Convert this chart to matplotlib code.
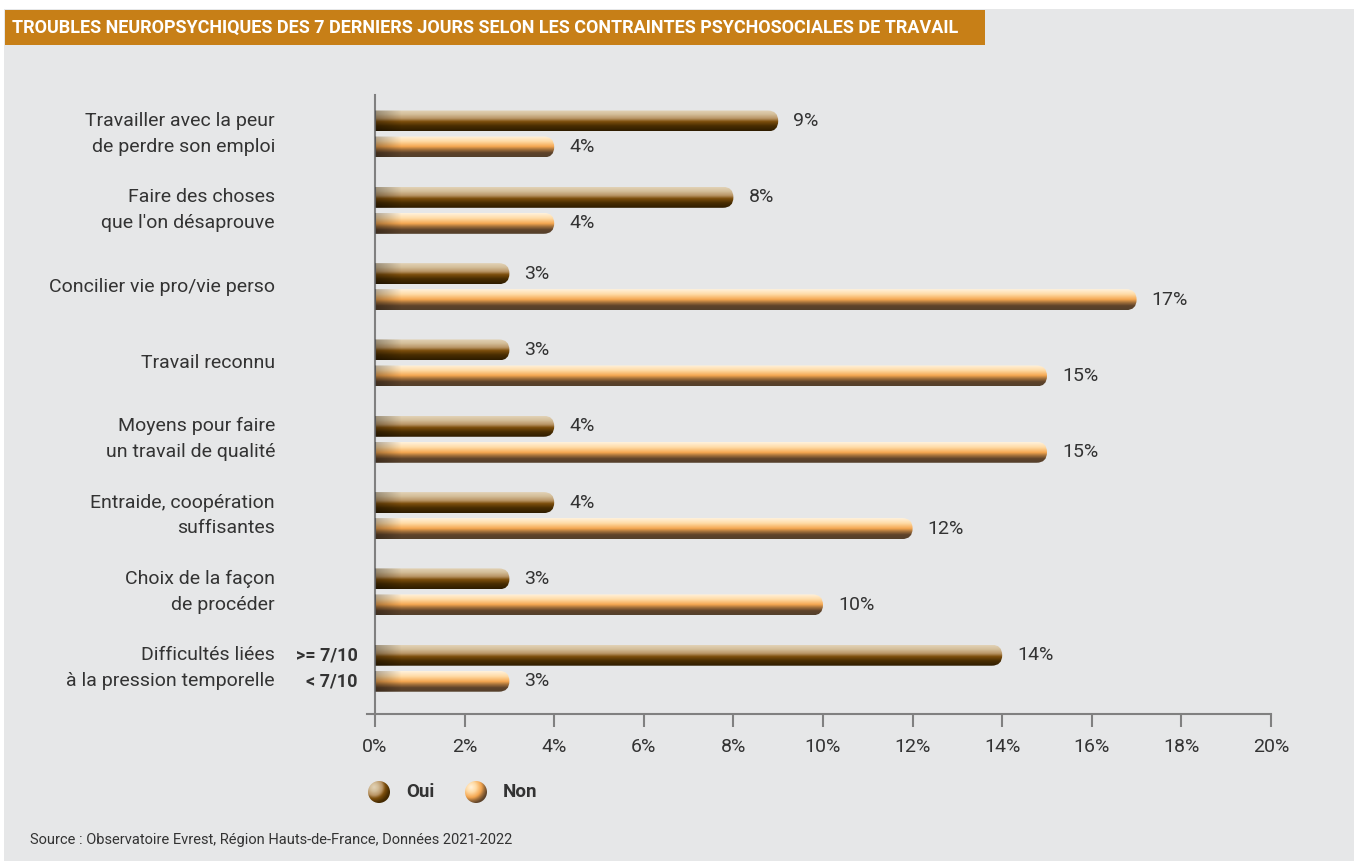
import numpy as np
import matplotlib.pyplot as plt
from matplotlib.patches import FancyBboxPatch, Rectangle, Circle
from matplotlib.colors import LinearSegmentedColormap

categories = [
    "Travailler avec la peur\nde perdre son emploi",
    "Faire des choses\nque l'on désaprouve",
    "Concilier vie pro/vie perso",
    "Travail reconnu",
    "Moyens pour faire\nun travail de qualité",
    "Entraide, coopération\nsuffisantes",
    "Choix de la façon\nde procéder",
    "Difficultés liées\nà la pression temporelle",
]
oui = [9, 8, 3, 3, 4, 4, 3, 14]
non = [4, 4, 17, 15, 15, 12, 10, 3]
xticks = [0, 2, 4, 6, 8, 10, 12, 14, 16, 18, 20]

title = "TROUBLES NEUROPSYCHIQUES DES 7 DERNIERS JOURS SELON LES CONTRAINTES PSYCHOSOCIALES DE TRAVAIL"
source = "Source : Observatoire Evrest, Région Hauts-de-France, Données 2021-2022"

plt.rcParams['font.family'] = ['Roboto', 'DejaVu Sans']
W, H = 1354, 861
bg = '#e6e7e8'
txt = '#333333'
fs = 14

fig = plt.figure(figsize=(W / 100, H / 100), dpi=100, facecolor='white')
fig.patches.append(Rectangle((4 / W, 0), 1, 1 - 9 / H, transform=fig.transFigure,
                             facecolor=bg, edgecolor='none', zorder=-10))
fig.patches.append(Rectangle((5 / W, 1 - 45 / H), 980 / W, 35 / H, transform=fig.transFigure,
                             facecolor='#c77f17', edgecolor='none', zorder=-5))
ttl = fig.text(12 / W, 1 - 28 / H, title, color='white', fontsize=13, fontweight='bold',
               va='center', ha='left')
# shrink title to fit the banner
rend = fig.canvas.get_renderer()
w = ttl.get_window_extent(rend).width
if w > 966:
    ttl.set_fontsize(13 * 966 / w)

ax = fig.add_axes([375 / W, 1 - 714 / H, 896 / W, 619 / H])
ax.patch.set_alpha(0)
ax.set_xlim(0, 20)
ax.set_ylim(7.6, -0.511)

cm_oui = LinearSegmentedColormap.from_list(
    'oui', [(0, '#e2d2b6'), (0.2, '#d3bd98'), (0.4, '#b99566'), (0.55, '#7c4e0c'),
            (0.75, '#4a2e02'), (1, '#2e1c00')])
cm_non = LinearSegmentedColormap.from_list(
    'non', [(0, '#fff2dc'), (0.25, '#ffdaa4'), (0.5, '#f4a650'), (0.65, '#9f6e3a'),
            (0.8, '#5e432a'), (1, '#54402c')])

xpp = 20 / 896
ypp = 8.111 / 619
asp = ypp / xpp
bh = 21 * ypp
off = 13 * ypp
grad = np.linspace(0, 1, 64).reshape(-1, 1)

def draw_bar(y, v, cmap):
    r = bh / 2 / asp
    patch = FancyBboxPatch((-1, y - bh / 2), v + 1, bh,
                           boxstyle=f"round,pad=0,rounding_size={r}",
                           mutation_aspect=asp, facecolor='none', edgecolor='none')
    ax.add_patch(patch)
    im = ax.imshow(grad, extent=[0, v, y + bh / 2, y - bh / 2], aspect='auto',
                   cmap=cmap, interpolation='bilinear', zorder=2)
    im.set_clip_path(patch)
    hl = np.linspace(0.3, 0, 40).reshape(1, -1)
    im2 = ax.imshow(np.ones((1, 40)), extent=[0, min(0.6, v), y + bh / 2, y - bh / 2],
                    aspect='auto', cmap='Greys_r', alpha=hl, zorder=3)
    im2.set_clip_path(patch)

for i, (o, n) in enumerate(zip(oui, non)):
    draw_bar(i - off, o, cm_oui)
    draw_bar(i + off, n, cm_non)
    ax.text(o + 15 * xpp, i - off, f"{o}%", va='center', ha='left', fontsize=fs, color=txt)
    ax.text(n + 15 * xpp, i + off, f"{n}%", va='center', ha='left', fontsize=fs, color=txt)
    ax.text(-100 * xpp, i, categories[i], va='center', ha='right', fontsize=fs,
            color=txt, linespacing=1.55)

last = len(categories) - 1
ax.text(-17 * xpp, last - off, ">= 7/10", va='center', ha='right', fontsize=13,
        color=txt, fontweight='bold')
ax.text(-17 * xpp, last + off, "< 7/10", va='center', ha='right', fontsize=13,
        color=txt, fontweight='bold')

ax.set_xlim(0, 20)
ax.set_ylim(7.6, -0.511)
for s in ['top', 'right']:
    ax.spines[s].set_visible(False)
for s in ['left', 'bottom']:
    ax.spines[s].set_color('#808080')
    ax.spines[s].set_linewidth(1.5)
ax.spines['bottom'].set_bounds(-8 * xpp, 20)
ax.spines['bottom'].set_clip_on(False)
ax.set_yticks([])
ax.set_xticks(xticks)
ax.set_xticklabels([f"{t}%" for t in xticks], fontsize=fs, color=txt)
ax.tick_params(axis='x', direction='out', length=9, width=1.5, color='#808080', pad=8)

def sphere(cx, cy, cmap):
    r = 11
    sa = fig.add_axes([(cx - r) / W, 1 - (cy + r) / H, 2 * r / W, 2 * r / H])
    sa.axis('off')
    yy, xx = np.mgrid[-1:1:60j, -1:1:60j]
    d = np.sqrt((xx + 0.45) ** 2 + (yy + 0.45) ** 2) / 1.9
    img = sa.imshow(d, cmap=cmap, extent=[-1, 1, 1, -1], interpolation='bilinear', vmin=0, vmax=1)
    c = Circle((0, 0), 1, transform=sa.transData)
    img.set_clip_path(c)
    sa.set_xlim(-1, 1)
    sa.set_ylim(1, -1)

sphere(379, 792, cm_oui)
sphere(476, 792, cm_non)
fig.text(406 / W, 1 - 792 / H, "Oui", va='center', ha='left', fontsize=13.5, color=txt, fontweight='bold')
fig.text(503 / W, 1 - 792 / H, "Non", va='center', ha='left', fontsize=13.5, color=txt, fontweight='bold')

fig.text(30 / W, 1 - 840 / H, source, va='center', ha='left', fontsize=10.5, color=txt)

fig.savefig('out.png', dpi=100, facecolor=fig.get_facecolor())
